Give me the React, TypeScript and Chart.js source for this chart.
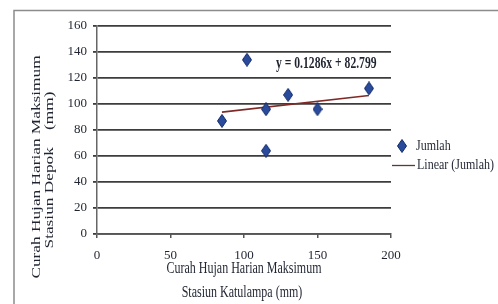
import React, { useEffect, useRef } from "react";
import { Chart, registerables } from "chart.js";

Chart.register(...registerables);

// ---- data ----
const katulampa = [85, 102, 115, 115, 130, 150, 185];
const depok = [87, 134, 96, 64, 107, 96, 112];
const trendSlope = 0.1286;
const trendIntercept = 82.799;
const equationLabel = "y = 0.1286x + 82.799";
const seriesName = "Jumlah";
const trendName = "Linear (Jumlah)";
const xTitle = ["Curah Hujan Harian Maksimum", "Stasiun Katulampa (mm)"];
const yTitle = ["Curah Hujan Harian Maksimum", "Stasiun Depok    (mm)"];

const SERIF = "'Liberation Serif', 'Times New Roman', serif";
const POINT_FILL = "#2a4a9c";
const POINT_EDGE = "#142d6a";
const TREND_COLOR = "#7e2b27";
const TEXT = "#1f2430";

function makeDiamond(): HTMLCanvasElement {
  const c = document.createElement("canvas");
  c.width = 10;
  c.height = 14;
  const g = c.getContext("2d")!;
  g.beginPath();
  g.moveTo(5, 0.5);
  g.lineTo(9.5, 7);
  g.lineTo(5, 13.5);
  g.lineTo(0.5, 7);
  g.closePath();
  g.fillStyle = POINT_FILL;
  g.fill();
  g.strokeStyle = POINT_EDGE;
  g.lineWidth = 1;
  g.stroke();
  return c;
}

function drawText(
  ctx: CanvasRenderingContext2D,
  text: string,
  x: number,
  y: number,
  font: string,
  align: CanvasTextAlign,
  sx: number,
  sy: number,
  rotate = 0
) {
  ctx.save();
  ctx.translate(x, y);
  if (rotate) ctx.rotate(rotate);
  ctx.scale(sx, sy);
  ctx.font = font;
  ctx.textAlign = align;
  ctx.textBaseline = "middle";
  ctx.fillStyle = TEXT;
  ctx.fillText(text, 0, 0);
  ctx.restore();
}

export default function App() {
  const ref = useRef<HTMLCanvasElement | null>(null);

  useEffect(() => {
    if (!ref.current) return;
    const diamond = makeDiamond();
    const xMin = Math.min(...katulampa);
    const xMax = Math.max(...katulampa);
    const trend = [
      { x: xMin, y: trendSlope * xMin + trendIntercept },
      { x: xMax, y: trendSlope * xMax + trendIntercept },
    ];

    const decor = {
      id: "decor",
      beforeDraw(chart: any) {
        const ctx = chart.ctx as CanvasRenderingContext2D;
        ctx.save();
        ctx.fillStyle = "#ffffff";
        ctx.fillRect(0, 0, chart.width, chart.height);
        ctx.strokeStyle = "#8c8c8c";
        ctx.lineWidth = 1.5;
        ctx.beginPath();
        ctx.moveTo(14, chart.height);
        ctx.lineTo(14, 10.5);
        ctx.lineTo(chart.width, 10.5);
        ctx.stroke();
        ctx.restore();
      },
      afterDraw(chart: any) {
        const ctx = chart.ctx as CanvasRenderingContext2D;
        const area = chart.chartArea;
        const font12 = `12px ${SERIF}`;
        // y title (rotated, stretched along text)
        drawText(ctx, yTitle[0], 37, 167, font12, "center", 1.44, 1.05, -Math.PI / 2);
        drawText(ctx, yTitle[1], 50, 170, font12, "center", 1.44, 1.05, -Math.PI / 2);
        // x title
        const cx = (area.left + area.right) / 2;
        drawText(ctx, xTitle[0], cx, 269, font12, "center", 1.0, 1.35);
        drawText(ctx, xTitle[1], cx - 2, 293, font12, "center", 1.0, 1.35);
        // equation
        drawText(ctx, equationLabel, 276, 64, `bold 12px ${SERIF}`, "left", 0.97, 1.35);
        // legend
        ctx.drawImage(diamond, 402 - 5, 146 - 7);
        drawText(ctx, seriesName, 416, 146, font12, "left", 1.0, 1.3);
        ctx.save();
        ctx.strokeStyle = "#5b3a36";
        ctx.lineWidth = 1.3;
        ctx.beginPath();
        ctx.moveTo(392, 165.5);
        ctx.lineTo(415, 165.5);
        ctx.stroke();
        ctx.restore();
        drawText(ctx, trendName, 417, 165, font12, "left", 1.0, 1.3);
      },
    };

    const chart = new Chart(ref.current, {
      type: "scatter",
      data: {
        datasets: [
          {
            label: seriesName,
            data: katulampa.map((x, i) => ({ x, y: depok[i] })),
            pointStyle: diamond as any,
            pointRadius: 6,
            order: 0,
          },
          {
            type: "line",
            label: trendName,
            data: trend,
            borderColor: TREND_COLOR,
            borderWidth: 1.6,
            pointRadius: 0,
            showLine: true,
            fill: false,
            order: 1,
          } as any,
        ],
      },
      options: {
        responsive: false,
        animation: false,
        devicePixelRatio: 1,
        layout: { padding: { left: 0, top: 26, right: 107, bottom: 0 } },
        plugins: {
          legend: { display: false },
          tooltip: { enabled: false },
        },
        scales: {
          x: {
            type: "linear",
            min: 0,
            max: 200,
            ticks: {
              stepSize: 50,
              color: TEXT,
              font: { family: SERIF, size: 13 },
              padding: 10,
            },
            grid: {
              drawOnChartArea: false,
              drawTicks: true,
              tickLength: 4,
              color: "#555",
              lineWidth: 1.5,
            },
            border: { color: "#555", width: 1.5 },
            afterFit(s: any) {
              s.height = 70;
            },
          },
          y: {
            min: 0,
            max: 160,
            ticks: {
              stepSize: 20,
              color: TEXT,
              font: { family: SERIF, size: 13 },
              padding: 6,
            },
            grid: {
              color: "#3d3d3d",
              lineWidth: 1.8,
              tickLength: 4,
            },
            border: { color: "#666", width: 1.5 },
            afterFit(s: any) {
              s.width = 97;
            },
          },
        },
      },
      plugins: [decor],
    });
    return () => chart.destroy();
  }, []);

  return (
    <div style={{ position: "absolute", left: 0, top: 0, width: 498, height: 304, background: "#fff" }}>
      <canvas ref={ref} width={498} height={304} />
    </div>
  );
}
